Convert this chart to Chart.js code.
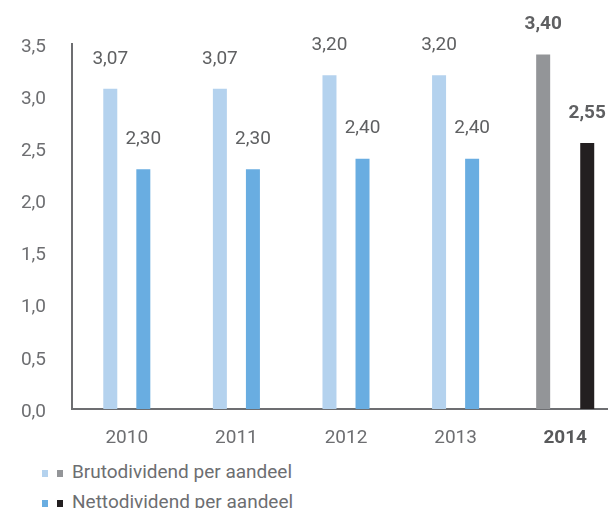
<!DOCTYPE html>
<html>
<head>
<meta charset="utf-8">
<script src="https://cdn.jsdelivr.net/npm/chart.js@4"></script>
<style>
    body { margin: 0; width: 608px; height: 508px; overflow: hidden; background: #fff; font-family: Roboto, "DejaVu Sans", sans-serif; }
    #wrap { position: absolute; left: 0; top: 0; width: 620px; height: 455px; }
    #legende { position: absolute; left: 42px; top: 459px; color: #6d6e71; font-size: 19px; }
    .rij { height: 30px; line-height: 26px; white-space: nowrap; }
    .blok { display: inline-block; width: 6px; height: 7px; margin-right: 9px; vertical-align: 1px; }
</style>
</head>
<body>
<div id="wrap"><canvas id="grafiekDividend"></canvas></div>
<div id="legende">
    <div class="rij"><span class="blok" style="background:#b4d2ee"></span><span class="blok" style="background:#939598"></span>Brutodividend per aandeel</div>
    <div class="rij"><span class="blok" style="background:#69ade1"></span><span class="blok" style="background:#231f20"></span>Nettodividend per aandeel</div>
</div>
<script>
const jaren = ["2010", "2011", "2012", "2013", "2014"];
const bruto = [3.07, 3.07, 3.20, 3.20, 3.40];
const netto = [2.30, 2.30, 2.40, 2.40, 2.55];
const yTicks = [0, 0.5, 1.0, 1.5, 2.0, 2.5, 3.0, 3.5];
const laatste = jaren.length - 1; // 2014 wordt apart gekleurd

const grijs = "#6d6e71";
const lettertype = "Roboto, 'DejaVu Sans', sans-serif";

// oude jaren en 2014 als aparte reeksen (null = overslaan)
const oud = arr => arr.map((v, i) => i === laatste ? null : v);
const nieuw = arr => arr.map((v, i) => i === laatste ? v : null);
const tussenruimte = jaren.map((j, i) => i === laatste ? 0 : null);

// waarden boven de staven
const labelPlugin = {
    id: "waarden",
    afterDatasetsDraw(chart) {
        const ctx = chart.ctx;
        ctx.save();
        ctx.textAlign = "center";
        ctx.textBaseline = "middle";
        chart.data.datasets.forEach((ds, d) => {
            if (!ds.toonWaarde) return;
            chart.getDatasetMeta(d).data.forEach((bar, i) => {
                const v = ds.data[i];
                if (v === null) return;
                ctx.font = (i === laatste ? "bold " : "") + "19px " + lettertype;
                ctx.fillStyle = "#5f6062";
                ctx.fillText(v.toFixed(2).replace(".", ","), bar.x, bar.y - 30);
            });
        });
        ctx.restore();
    }
};

new Chart(document.getElementById("grafiekDividend"), {
    type: "bar",
    data: {
        labels: jaren,
        datasets: [
            { label: "Brutodividend per aandeel", data: oud(bruto), backgroundColor: "#b4d2ee", toonWaarde: true },
            { label: "Brutodividend 2014", data: nieuw(bruto), backgroundColor: "#939598", toonWaarde: true },
            { label: "", data: tussenruimte, backgroundColor: "rgba(0,0,0,0)" },
            { label: "Nettodividend per aandeel", data: oud(netto), backgroundColor: "#69ade1", toonWaarde: true },
            { label: "Nettodividend 2014", data: nieuw(netto), backgroundColor: "#231f20", toonWaarde: true }
        ]
    },
    options: {
        responsive: true,
        maintainAspectRatio: false,
        animation: false,
        skipNull: true,
        categoryPercentage: 0.603,
        barPercentage: 1,
        maxBarThickness: 14,
        layout: { padding: { top: 44, right: 0, left: 0, bottom: 0 } },
        plugins: { legend: { display: false }, tooltip: { enabled: false } },
        scales: {
            x: {
                grid: { display: false, drawTicks: false },
                border: { display: true, color: grijs, width: 2 },
                ticks: {
                    padding: 18,
                    color: ctx => ctx.index === laatste ? "#58595b" : grijs,
                    font: ctx => ({ family: lettertype, size: 19, weight: ctx.index === laatste ? "bold" : "normal" })
                },
                afterFit: scale => { scale.height = 46; }
            },
            y: {
                min: 0,
                max: 3.5,
                grid: { display: false, drawTicks: false },
                border: { display: true, color: grijs, width: 2 },
                afterBuildTicks: scale => { scale.ticks = yTicks.map(v => ({ value: v })); },
                ticks: {
                    padding: 26,
                    labelOffset: 3,
                    color: grijs,
                    font: { family: lettertype, size: 19 },
                    callback: v => v.toFixed(1).replace(".", ",")
                },
                afterFit: scale => { scale.width = 72; }
            }
        }
    },
    plugins: [labelPlugin]
});
</script>
</body>
</html>
